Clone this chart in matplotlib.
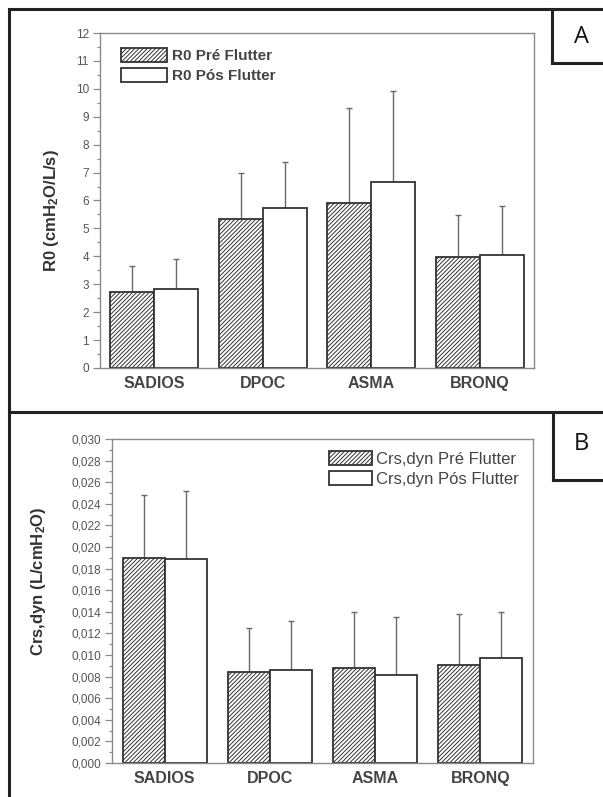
import matplotlib
matplotlib.use("Agg")
import matplotlib.pyplot as plt
import numpy as np
from matplotlib.lines import Line2D
from matplotlib.ticker import MultipleLocator, FuncFormatter

plt.rcParams['font.family'] = ['Liberation Sans', 'DejaVu Sans']
plt.rcParams['mathtext.default'] = 'regular'
plt.rcParams['hatch.color'] = '#555555'
plt.rcParams['hatch.linewidth'] = 0.7

categories = ['SADIOS', 'DPOC', 'ASMA', 'BRONQ']

r0_pre = [2.74, 5.35, 5.90, 3.99]
r0_pre_err = [0.93, 1.65, 3.43, 1.50]
r0_pos = [2.82, 5.72, 6.66, 4.03]
r0_pos_err = [1.07, 1.66, 3.27, 1.77]

crs_pre = [0.0190, 0.00847, 0.00884, 0.00912]
crs_pre_err = [0.0058, 0.0040, 0.00516, 0.00467]
crs_pos = [0.01888, 0.0086, 0.00814, 0.00973]
crs_pos_err = [0.0063, 0.00457, 0.00537, 0.00427]

W, H = 603, 797
fig = plt.figure(figsize=(W / 100, H / 100), dpi=100)
fig.patch.set_facecolor('white')

def fx(px):
    return px / W

def fy(py):
    return 1 - py / H

edge = '#333333'
spine_c = '#8a8a8a'
tick_c = '#555555'
err_c = '#6a6a6a'
HATCH = '////////'

def draw_panel(ax, pre, pre_err, pos, pos_err, width):
    x = np.arange(len(categories))
    ax.bar(x - width / 2, pre, width, facecolor='white', edgecolor=edge,
           linewidth=1.3, hatch=HATCH, zorder=2)
    ax.bar(x + width / 2, pos, width, facecolor='white', edgecolor=edge,
           linewidth=1.3, zorder=2)
    ax.errorbar(x - width / 2, pre, yerr=[np.zeros(len(pre)), pre_err], fmt='none',
                ecolor=err_c, elinewidth=1.0, capsize=2, capthick=1.0, zorder=1)
    ax.errorbar(x + width / 2, pos, yerr=[np.zeros(len(pos)), pos_err], fmt='none',
                ecolor=err_c, elinewidth=1.0, capsize=2, capthick=1.0, zorder=1)
    ax.set_xlim(-0.5, len(categories) - 0.5)
    ax.set_xticks(x)
    ax.set_xticklabels(categories, fontsize=11.5, fontweight='bold', color='#444444')
    ax.tick_params(axis='x', length=0, pad=6)
    ax.tick_params(axis='y', which='major', direction='out', length=5, width=0.9,
                   color=spine_c, labelcolor=tick_c, pad=3)
    ax.tick_params(axis='y', which='minor', direction='out', length=2.5, width=0.9,
                   color=spine_c)
    for s in ax.spines.values():
        s.set_color(spine_c)
        s.set_linewidth(1.0)

# Panel A
axA = fig.add_axes([fx(100), fy(368), fx(534) - fx(100), fy(33) - fy(368)])
draw_panel(axA, r0_pre, r0_pre_err, r0_pos, r0_pos_err, 0.405)
axA.set_ylim(0, 12)
axA.yaxis.set_major_locator(MultipleLocator(1))
axA.yaxis.set_minor_locator(MultipleLocator(0.5))
for lab in axA.get_yticklabels():
    lab.set_fontsize(8.5)
axA.set_ylabel('R0 (cmH$_2$O/L/s)', fontsize=12, fontweight='bold', color='#333333')
axA.yaxis.set_label_coords(-0.089, 0.47)
legA = axA.legend(['R0 Pré Flutter', 'R0 Pós Flutter'], loc='upper left',
                  bbox_to_anchor=(0.048, 0.955), frameon=False, borderpad=0,
                  borderaxespad=0, handlelength=3.0, handleheight=1.05,
                  handletextpad=0.35, labelspacing=0.3,
                  prop={'size': 11, 'weight': 'bold'})
for t in legA.get_texts():
    t.set_color('#444444')

# Panel B
axB = fig.add_axes([fx(112), fy(763), fx(533) - fx(112), fy(439) - fy(763)])
draw_panel(axB, crs_pre, crs_pre_err, crs_pos, crs_pos_err, 0.40)
axB.set_ylim(0, 0.030)
axB.yaxis.set_major_locator(MultipleLocator(0.002))
axB.yaxis.set_minor_locator(MultipleLocator(0.001))
axB.yaxis.set_major_formatter(FuncFormatter(lambda v, p: f"{v:.3f}".replace('.', ',')))
for lab in axB.get_yticklabels():
    lab.set_fontsize(8.5)
axB.set_ylabel('Crs,dyn (L/cmH$_2$O)', fontsize=12, fontweight='bold', color='#333333')
axB.yaxis.set_label_coords(-0.152, 0.562)
legB = axB.legend(['Crs,dyn Pré Flutter', 'Crs,dyn Pós Flutter'], loc='upper left',
                  bbox_to_anchor=(0.515, 0.963), frameon=False, borderpad=0,
                  borderaxespad=0, handlelength=2.6, handleheight=0.95,
                  handletextpad=0.25, labelspacing=0.25,
                  prop={'size': 12})
for t in legB.get_texts():
    t.set_color('#444444')

# Outer frame and panel labels
frame_c = '#222222'
lw = 2.2
def line(x0, y0, x1, y1):
    fig.add_artist(Line2D([fx(x0), fx(x1)], [fy(y0), fy(y1)], color=frame_c,
                          linewidth=lw, solid_capstyle='projecting'))

line(9, 9, 610, 9)
line(9, 9, 9, 805)
line(9, 412, 610, 412)
line(552, 9, 552, 63)
line(552, 63, 610, 63)
line(553, 412, 553, 480)
line(553, 480, 610, 480)

fig.text(fx(581), fy(37), 'A', fontsize=17, family='Open Sans', ha='center', va='center',
         color='#111111')
fig.text(fx(581), fy(444), 'B', fontsize=17, family='Open Sans', ha='center', va='center',
         color='#111111')

fig.savefig('out.png', dpi=100)
